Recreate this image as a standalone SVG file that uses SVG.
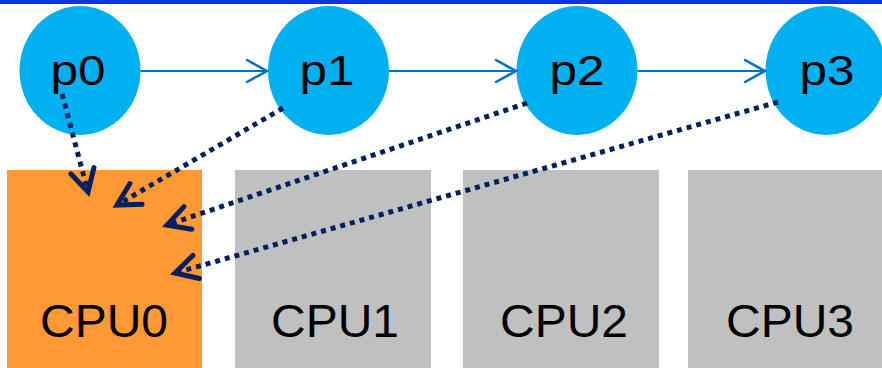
<svg xmlns="http://www.w3.org/2000/svg" width="882" height="368" viewBox="0 0 882 368">
  <defs>
    <style>
      .proc { fill: #00b0f0; }
      .proc-label { font-family: "Liberation Sans", Arial, sans-serif; font-size: 42px; fill: #000; text-anchor: middle; }
      .cpu-label { font-family: "Liberation Sans", Arial, sans-serif; font-size: 47px; fill: #000; text-anchor: middle; }
      .cpu-busy { fill: #ff9933; }
      .cpu-idle { fill: #c0c0c0; }
      .chain { fill: none; stroke: #0070c0; stroke-width: 2.2; marker-end: url(#open-blue); }
      .assign { fill: none; stroke: #002060; stroke-width: 5; stroke-dasharray: 5 5; marker-end: url(#open-navy); }
    </style>
    <marker id="open-blue" markerUnits="userSpaceOnUse" viewBox="-24 -14 28 28" markerWidth="28" markerHeight="28" refX="0" refY="0" orient="auto" overflow="visible">
      <path d="M -20 -11 L 0 0 L -20 11" fill="none" stroke="#0070c0" stroke-width="2.5" stroke-linecap="round" stroke-linejoin="miter"/>
    </marker>
    <marker id="open-navy" markerUnits="userSpaceOnUse" viewBox="-30 -18 36 36" markerWidth="36" markerHeight="36" refX="0" refY="0" orient="auto" overflow="visible">
      <path d="M -22 -12 L 0 0 L -22 12" fill="none" stroke="#002060" stroke-width="5" stroke-linecap="round" stroke-linejoin="miter"/>
    </marker>
  </defs>

  <rect x="0" y="0" width="882" height="368" fill="#ffffff"/>
  <!-- header rule -->
  <rect x="0" y="0" width="882" height="4" fill="#0a35e0"/>

  <!-- CPUs -->
  <g id="cpu0">
    <rect class="cpu-busy" x="7" y="170" width="195" height="198"/>
    <text class="cpu-label" x="104" y="337" textLength="128" lengthAdjust="spacingAndGlyphs">CPU0</text>
  </g>
  <g id="cpu1">
    <rect class="cpu-idle" x="235" y="170" width="196" height="198"/>
    <text class="cpu-label" x="335" y="337" textLength="128" lengthAdjust="spacingAndGlyphs">CPU1</text>
  </g>
  <g id="cpu2">
    <rect class="cpu-idle" x="463" y="170" width="196" height="198"/>
    <text class="cpu-label" x="564" y="337" textLength="128" lengthAdjust="spacingAndGlyphs">CPU2</text>
  </g>
  <g id="cpu3">
    <rect class="cpu-idle" x="688" y="170" width="196" height="198"/>
    <text class="cpu-label" x="790" y="337" textLength="128" lengthAdjust="spacingAndGlyphs">CPU3</text>
  </g>

  <!-- processes -->
  <g id="p0">
    <ellipse class="proc" cx="80" cy="70.5" rx="60.5" ry="64.5"/>
    <text class="proc-label" x="78" y="85" textLength="55" lengthAdjust="spacingAndGlyphs">p0</text>
  </g>
  <g id="p1">
    <ellipse class="proc" cx="328.5" cy="70.5" rx="60.5" ry="64.5"/>
    <text class="proc-label" x="327" y="85" textLength="55" lengthAdjust="spacingAndGlyphs">p1</text>
  </g>
  <g id="p2">
    <ellipse class="proc" cx="577" cy="70.5" rx="60.5" ry="64.5"/>
    <text class="proc-label" x="577" y="85" textLength="55" lengthAdjust="spacingAndGlyphs">p2</text>
  </g>
  <g id="p3">
    <ellipse class="proc" cx="826" cy="70.5" rx="60.5" ry="64.5"/>
    <text class="proc-label" x="827" y="85" textLength="55" lengthAdjust="spacingAndGlyphs">p3</text>
  </g>

  <!-- connectors -->
  <g id="connectors">
    <line class="chain" x1="140.5" y1="71" x2="267" y2="71"/>
    <line class="chain" x1="389" y1="71" x2="516" y2="71"/>
    <line class="chain" x1="637.5" y1="71" x2="765" y2="71"/>

    <line class="assign" x1="62" y1="94" x2="88" y2="192"/>
    <line class="assign" x1="283" y1="108" x2="117" y2="205"/>
    <line class="assign" x1="527" y1="103" x2="167" y2="225"/>
    <line class="assign" x1="778" y1="102" x2="175" y2="273"/>
  </g>
</svg>
